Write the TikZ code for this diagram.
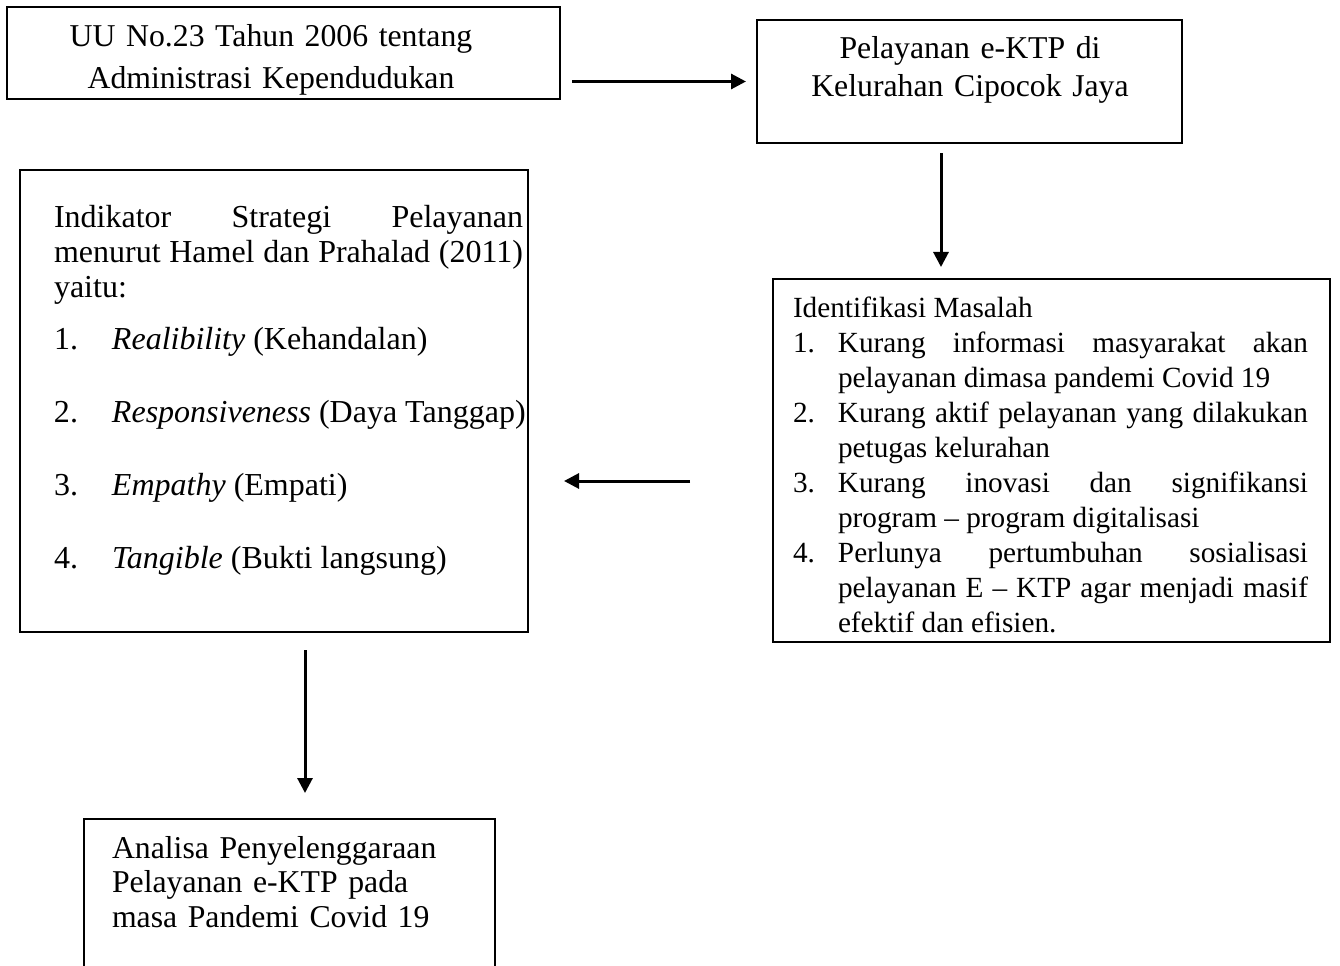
\documentclass[tikz,border=0pt]{standalone}
\usepackage{fontspec}
\setmainfont{Liberation Serif}[Ligatures={TeX,CommonOff}]
\usetikzlibrary{arrows.meta}
\tolerance=10000
\hbadness=10000
\hyphenpenalty=10000
\exhyphenpenalty=10000
% numbered line with hanging indent
\newcommand{\numitem}[3]{\par\hangindent=#1\hangafter=1\noindent\makebox[#1][l]{#2}#3\par}

\begin{document}
\begin{tikzpicture}[x=0.4pt, y=-0.4pt,
    box/.style={draw, line width=0.8pt, inner sep=0pt, outer sep=0pt, anchor=north west},
    txt/.style={inner sep=0pt, outer sep=0pt},
    arr/.style={line width=1.2pt, -{Triangle[length=6pt,width=6pt]}}]
    % Page: 1340 x 966
    \useasboundingbox (0,0) rectangle (1340,966);
    \clip (0,0) rectangle (1340,966);

    % Boxes
    \node[box, minimum width=221.2pt, minimum height=36.8pt] (uu) at (7,7) {};
    \node[box, minimum width=170pt, minimum height=49.2pt] (pel) at (757,20) {};
    \node[box, minimum width=203.2pt, minimum height=184.8pt] (ind) at (20,170) {};
    \node[box, minimum width=222.8pt, minimum height=145.2pt] (ident) at (773,279) {};
    \node[box, minimum width=164.4pt, minimum height=68pt] (ana) at (84,819) {};

    % Texts
    \node[txt, anchor=base, text width=190pt, align=center,
        font=\fontsize{12.7}{16.4}\selectfont] (uutext) at (271,47)
        {UU No.23 Tahun 2006 tentang\\Administrasi Kependudukan};
    \node[txt, anchor=base, text width=160pt, align=center,
        font=\fontsize{12.7}{15.2}\selectfont] (peltext) at (970,59)
        {Pelayanan e-KTP di\\Kelurahan Cipocok Jaya};
    \node[txt, anchor=base west, text width=187.6pt, align=justify,
        font=\fontsize{12.8}{14}\selectfont] (indtext) at (54,227) {%
        Indikator Strategi Pelayanan\linebreak
        menurut Hamel dan Prahalad (2011)\linebreak
        yaitu:\par\vspace{6.8pt}
        \mbox{\makebox[23.2pt][l]{1.}\textit{Realibility} (Kehandalan)}\par\vspace{15.2pt}
        \mbox{\makebox[23.2pt][l]{2.}\textit{Responsiveness} (Daya Tanggap)}\par\vspace{15.2pt}
        \mbox{\makebox[23.2pt][l]{3.}\textit{Empathy} (Empati)}\par\vspace{15.2pt}
        \mbox{\makebox[23.2pt][l]{4.}\textit{Tangible} (Bukti langsung)}};
    \node[txt, anchor=base west, text width=206pt, align=justify,
        font=\fontsize{11.7}{14}\selectfont] (identtext) at (793,317) {%
        Identifikasi Masalah
        \numitem{18pt}{1.}{Kurang informasi masyarakat akan\linebreak
            pelayanan dimasa pandemi Covid 19}
        \numitem{18pt}{2.}{Kurang aktif pelayanan yang dilakukan\linebreak
            petugas kelurahan}
        \numitem{18pt}{3.}{Kurang inovasi dan signifikansi\linebreak
            program – program digitalisasi}
        \numitem{18pt}{4.}{Perlunya pertumbuhan sosialisasi\linebreak
            pelayanan E – KTP agar menjadi masif\linebreak
            efektif dan efisien.}};
    \node[txt, anchor=base west, text width=160pt, align=left,
        font=\fontsize{12.7}{13.8}\selectfont] (anatext) at (112,858)
        {Analisa Penyelenggaraan\\Pelayanan e-KTP pada\\masa Pandemi Covid 19};

    % Arrows
    \coordinate (xa) at (941,0);
    \coordinate (xb) at (305,0);
    \coordinate (ya) at (0,481);
    \draw[arr, shorten <=4.8pt, shorten >=4.4pt] (uu.east |- pel.west) -- (pel.west);
    \draw[arr, shorten <=4pt, shorten >=4.8pt] (pel.south -| xa) -- (ident.north -| xa);
    \draw[arr, shorten <=33.2pt, shorten >=14.4pt] (ident.west |- ya) -- (ind.east |- ya);
    \draw[arr, shorten <=7.2pt, shorten >=10.4pt] (ind.south -| xb) -- (ana.north -| xb);
\end{tikzpicture}
\end{document}
